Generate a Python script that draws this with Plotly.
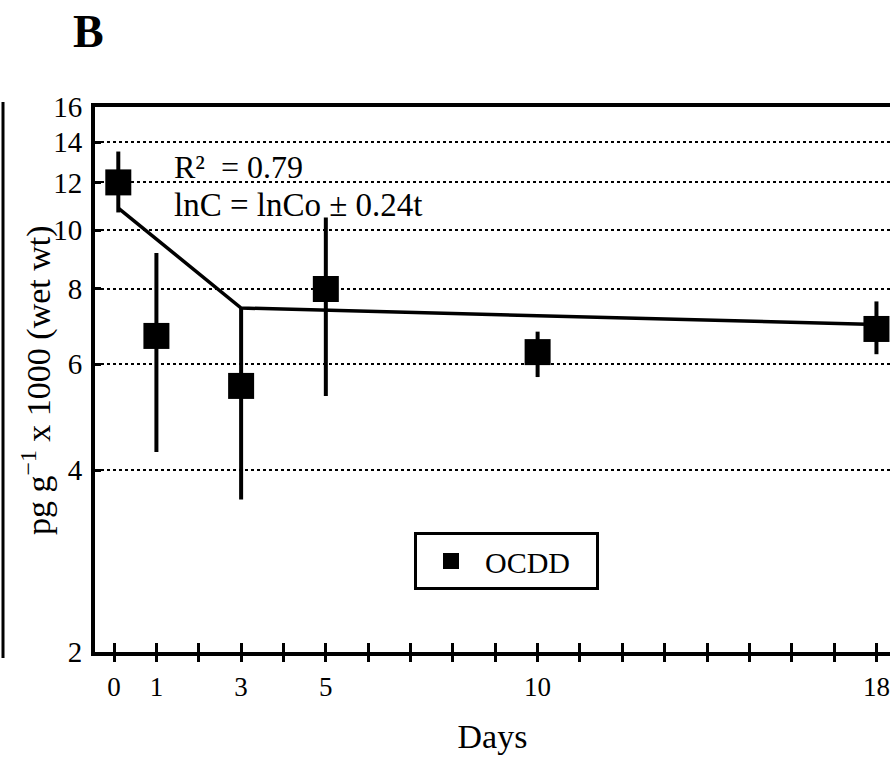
import plotly.graph_objects as go

# ---- data ----
days = [0.1, 1, 3, 5, 10, 18]
ocdd = [12.0, 6.68, 5.52, 7.99, 6.28, 6.86]
ocdd_hi = [13.5, 9.17, 7.46, 10.5, 6.79, 7.62]
ocdd_lo = [10.7, 4.29, 3.58, 5.31, 5.71, 6.23]

fit_days = [0.1, 3, 18]
fit_vals = [10.88, 7.43, 6.98]

x_tick_vals = list(range(19))
x_tick_labels = ["0", "1", " ", "3", " ", "5", " ", " ", " ", " ", "10",
                 " ", " ", " ", " ", " ", " ", " ", "18"]
y_tick_vals = [2, 4, 6, 8, 10, 12, 14, 16]
y_tick_labels = ["2", "4", "6", "8", "10", "12", "14", "16"]

FONT = "Liberation Serif"
X_RANGE = [-0.45, 18.32]

err_plus = [h - v for h, v in zip(ocdd_hi, ocdd)]
err_minus = [v - l for v, l in zip(ocdd, ocdd_lo)]

fig = go.Figure()

# fitted model line (on overlay axis so that crossing ticks are drawn)
fig.add_trace(go.Scatter(
    x=fit_days, y=fit_vals, mode="lines",
    line=dict(color="black", width=3.5),
    showlegend=False, hoverinfo="skip", xaxis="x2", yaxis="y"))

fig.add_trace(go.Scatter(
    x=days, y=ocdd, mode="markers", name="OCDD",
    marker=dict(symbol="square", size=26, color="black"),
    error_y=dict(type="data", symmetric=False, array=err_plus,
                 arrayminus=err_minus, color="black", thickness=4, width=0),
))

W, H = 890, 761
L, R, T, B = 95, 0, 107, 109
pw, ph = W - L - R, H - T - B


def px(xp):
    return (xp - L) / pw


def py(yp):
    return (H - B - yp) / ph


fig.update_layout(
    width=W, height=H,
    margin=dict(l=L, r=R, t=T, b=B),
    paper_bgcolor="white", plot_bgcolor="white",
    font=dict(family=FONT, color="black", size=28),
    showlegend=True,
    legend=dict(
        x=px(414), y=py(532), xanchor="left", yanchor="top",
        orientation="h",
        bordercolor="black", borderwidth=3, bgcolor="white",
        font=dict(family=FONT, size=30, color="black"),
        itemwidth=58, entrywidth=106,
    ),
    xaxis=dict(
        range=X_RANGE, tickmode="array", tickvals=x_tick_vals,
        ticktext=x_tick_labels, ticks="outside", ticklen=6, tickwidth=3,
        tickcolor="black", showline=True, linewidth=4, linecolor="black",
        mirror=True, showgrid=False, zeroline=False,
        tickfont=dict(family=FONT, size=27),
        ticklabelstandoff=2,
        title=dict(text="Days", font=dict(family=FONT, size=34), standoff=24),
    ),
    xaxis2=dict(
        range=X_RANGE, overlaying="x", anchor="y", side="bottom",
        tickmode="array", tickvals=x_tick_vals, ticks="inside", ticklen=9,
        tickwidth=3, tickcolor="black", showticklabels=False,
        showline=False, showgrid=False, zeroline=False,
    ),
    yaxis=dict(
        type="log", range=[0.30103, 1.20412], tickmode="array",
        tickvals=y_tick_vals, ticktext=y_tick_labels,
        ticks="inside", ticklen=6, tickwidth=3, tickcolor="black",
        showline=True, linewidth=4, linecolor="black", mirror=False,
        showgrid=True, gridcolor="black", gridwidth=1.5, griddash="dot",
        zeroline=False, tickfont=dict(family=FONT, size=29),
        ticklabelstandoff=3,
    ),
    annotations=[
        dict(text="R\u00b2  = 0.79", x=1.37, y=1.105, xref="x", yref="y",
             xanchor="left", yanchor="middle", showarrow=False,
             font=dict(family=FONT, size=32)),
        dict(text="lnC = lnCo \u00b1 0.24t", x=1.37, y=1.041, xref="x", yref="y",
             xanchor="left", yanchor="middle", showarrow=False,
             font=dict(family=FONT, size=33)),
        dict(text="<b>B</b>", x=px(88), y=py(32), xref="paper", yref="paper",
             xanchor="center", yanchor="middle",
             showarrow=False, font=dict(family=FONT, size=46)),
        dict(text="pg g<sup>\u2212</sup><sup>1</sup> x 1000 (wet wt)",
             x=px(36), y=py(380), xref="paper", yref="paper",
             xanchor="center", yanchor="middle", textangle=-90,
             showarrow=False, font=dict(family=FONT, size=34)),
    ],
    shapes=[
        dict(type="line", xref="paper", yref="paper",
             x0=px(3), x1=px(3), y0=py(658), y1=py(102),
             line=dict(color="black", width=3)),
    ],
)

fig.write_html("out.html", config={"displayModeBar": False},
               post_script="document.body.style.margin='0';")
